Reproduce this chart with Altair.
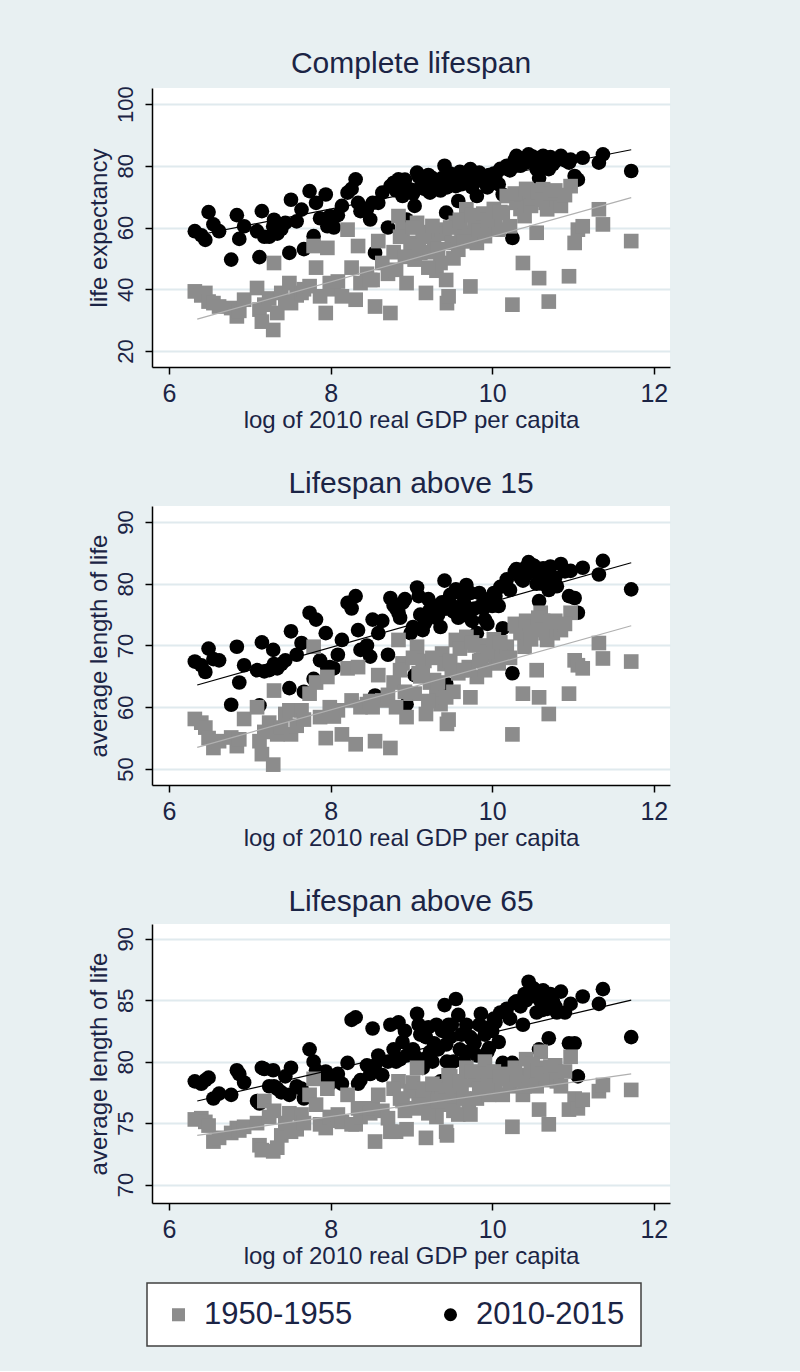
import altair as alt
import pandas as pd

# ---- data ----
gdp_log = [6.32, 6.40, 6.45, 6.49, 6.55, 6.62, 6.77, 6.84, 6.87, 6.93,
           7.09, 7.12, 7.15, 7.18, 7.24, 7.29, 7.30, 7.34, 7.39, 7.44,
           7.49, 7.51, 7.58, 7.64, 7.67, 7.74, 7.79, 7.82, 7.87, 7.94,
           7.96, 7.99, 8.04, 8.09, 8.14, 8.21, 8.26, 8.31, 8.34, 8.37,
           8.45, 8.49, 8.52, 8.55, 8.59, 8.64, 8.71, 8.74, 8.81, 8.84,
           8.89, 8.94, 8.99, 9.04, 9.07, 9.11, 9.14, 9.18, 9.23, 9.28,
           9.31, 9.36, 9.38, 9.41, 9.43, 9.44, 9.46, 9.50, 9.55, 9.58,
           9.62, 9.68, 9.71, 9.73, 9.78, 9.81, 9.86, 9.91, 9.96, 10.00,
           10.04, 10.08, 10.13, 10.18, 10.22, 10.25, 10.30, 10.35, 10.38, 10.40,
           10.45, 10.48, 10.52, 10.55, 10.58, 10.60, 10.63, 10.66, 10.68, 10.70,
           10.75, 10.80, 10.85, 10.95, 10.97, 11.02, 11.06, 11.12, 11.32, 11.37,
           11.72,
           8.78, 8.86, 8.92, 9.02, 9.09, 9.16, 9.21, 9.26, 9.33, 9.48,
           9.52, 9.60, 9.65, 9.75, 9.84, 9.89, 9.94, 10.02, 10.10, 10.28,
           10.42, 10.50, 10.57, 10.62, 10.72, 10.78, 10.90]

le_1950 = [39.3, 38.0, 38.8, 36.0, 35.5, 34.4, 33.9, 31.2, 33.0, 36.6,
           40.4, 33.4, 29.5, 35.0, 37.0, 26.8, 48.5, 32.3, 38.8, 36.0,
           42.0, 35.5, 38.0, 38.8, 40.0, 41.0, 54.0, 47.0, 37.7, 32.3,
           53.4, 42.0, 40.0, 42.5, 37.7, 59.3, 47.0, 36.6, 54.0, 42.0,
           45.0, 43.0, 43.0, 34.4, 55.6, 48.5, 45.0, 32.3, 46.3, 63.7,
           59.3, 42.0, 55.0, 49.6, 61.5, 51.8, 57.0, 38.8, 52.0, 56.0,
           46.0, 48.5, 59.3, 58.0, 43.0, 35.5, 37.7, 55.0, 61.5, 52.8,
           57.0, 65.9, 58.3, 40.9, 62.0, 55.0, 61.5, 57.2, 60.0, 63.7,
           62.0, 59.3, 64.8, 70.2, 60.4, 35.0, 68.0, 66.0, 48.5, 63.7,
           70.2, 67.0, 72.0, 58.3, 43.6, 71.0, 72.4, 68.0, 65.9, 36.0,
           70.2, 69.0, 67.0, 44.2, 73.4, 55.0, 59.3, 60.4, 65.9, 61.0,
           55.6,
           52.0, 57.0, 50.5, 60.0, 54.0, 58.5, 47.0, 60.5, 53.0, 60.0,
           50.0, 62.5, 55.5, 64.0, 59.0, 64.5, 62.5, 66.0, 65.0, 71.0,
           72.5, 69.5, 71.5, 69.0, 71.0, 72.0, 70.5]

le_2010 = [58.8, 57.5, 56.0, 65.0, 61.0, 58.8, 49.6, 64.0, 56.3, 60.4,
           58.8, 50.4, 65.3, 57.0, 57.0, 60.4, 62.5, 58.0, 59.5, 61.5,
           51.8, 69.0, 62.0, 65.8, 53.0, 71.8, 57.2, 68.0, 63.0, 70.7,
           60.4, 63.7, 60.0, 64.0, 67.0, 71.3, 72.5, 75.6, 68.0, 65.3,
           66.0, 62.6, 68.0, 51.8, 68.0, 71.3, 60.0, 73.4, 72.0, 75.6,
           70.2, 62.6, 72.3, 67.0, 77.8, 73.0, 75.0, 73.4, 71.3, 74.0,
           74.5, 72.0, 76.0, 80.0, 64.8, 73.0, 76.7, 75.0, 73.4, 68.6,
           74.0, 77.8, 75.0, 78.9, 76.0, 70.2, 76.7, 74.5, 77.0, 75.6,
           76.7, 74.0, 70.7, 80.0, 78.5, 56.6, 83.2, 80.0, 81.0, 82.0,
           83.7, 82.5, 82.1, 78.9, 76.0, 81.5, 83.2, 82.0, 81.0, 78.9,
           80.5, 82.0, 83.2, 81.0, 82.0, 76.7, 75.5, 82.6, 81.0, 83.7,
           78.3,
           74.5, 73.0, 75.5, 71.0, 76.5, 72.5, 77.0, 76.0, 73.0, 77.5,
           74.0, 78.0, 76.5, 73.0, 77.8, 75.5, 73.0, 77.5, 79.0, 82.0,
           81.0, 83.0, 82.5, 80.5, 82.8, 81.5, 81.8]

l15_1950 = [58.1, 57.5, 56.7, 55.0, 53.4, 54.5, 55.1, 53.7, 54.8, 58.1,
            60.0, 54.5, 52.4, 56.0, 57.5, 50.7, 62.7, 55.6, 56.7, 58.9,
            59.5, 55.6, 57.0, 59.5, 58.0, 62.2, 69.8, 64.0, 58.4, 55.0,
            64.9, 60.0, 58.5, 59.5, 55.6, 66.3, 61.1, 54.0, 66.5, 60.0,
            60.5, 61.0, 60.0, 54.5, 65.2, 61.1, 62.0, 53.4, 60.0, 70.9,
            67.1, 58.4, 62.2, 62.2, 69.8, 65.0, 66.0, 58.9, 64.0, 64.4,
            62.0, 60.5, 68.7, 67.0, 61.6, 57.3, 58.0, 66.0, 70.9, 65.5,
            66.0, 71.4, 66.5, 61.6, 70.0, 64.9, 67.6, 66.0, 68.5, 69.8,
            68.0, 67.1, 68.5, 69.8, 68.0, 55.6, 73.1, 72.0, 62.2, 69.8,
            72.0, 71.0, 73.5, 66.0, 61.6, 75.3, 74.0, 72.0, 70.9, 58.9,
            72.0, 73.0, 72.5, 62.2, 75.3, 67.6, 66.8, 66.3, 70.4, 67.9,
            67.4,
            64.0, 66.0, 62.5, 68.0, 65.5, 67.5, 61.0, 68.0, 64.0, 67.5,
            62.5, 69.5, 66.0, 70.5, 67.5, 70.0, 69.0, 71.0, 70.5, 73.5,
            74.0, 73.0, 74.5, 72.5, 73.8, 74.0, 73.5]

l15_2010 = [67.4, 66.8, 65.7, 69.5, 67.8, 67.6, 60.4, 69.8, 64.0, 66.8,
            66.0, 60.3, 70.5, 65.8, 66.0, 69.3, 67.0, 66.3, 67.0, 67.6,
            63.1, 72.3, 68.5, 70.4, 62.5, 75.3, 64.6, 74.2, 67.6, 72.0,
            66.3, 66.5, 66.3, 68.5, 70.9, 76.9, 76.0, 78.0, 72.5, 69.3,
            70.0, 68.2, 74.2, 61.9, 72.0, 74.0, 68.5, 77.7, 76.0, 75.3,
            76.9, 60.5, 72.0, 65.2, 79.4, 75.0, 72.5, 74.0, 75.8, 76.0,
            74.5, 73.0, 77.0, 80.5, 63.8, 76.0, 77.0, 76.5, 79.1, 74.5,
            76.0, 79.8, 74.7, 78.5, 76.0, 72.0, 76.4, 74.2, 77.5, 76.4,
            78.0, 76.4, 72.8, 80.7, 79.0, 65.5, 82.4, 81.0, 80.5, 82.5,
            83.5, 82.0, 82.9, 80.0, 77.2, 81.8, 82.5, 81.5, 82.1, 79.0,
            80.5, 79.6, 83.2, 78.0, 82.1, 77.7, 75.3, 82.6, 81.5, 83.7,
            79.1,
            76.5, 74.5, 77.5, 73.0, 78.0, 73.5, 77.5, 76.5, 75.0, 78.2,
            75.5, 78.5, 77.0, 74.0, 78.5, 76.0, 73.5, 78.5, 79.5, 82.0,
            81.5, 83.0, 82.3, 80.0, 82.8, 81.0, 82.0]

l65_1950 = [75.3, 75.4, 75.1, 74.8, 73.5, 73.8, 74.2, 74.6, 74.4, 74.7,
            75.0, 73.2, 72.8, 76.8, 75.5, 72.7, 76.0, 73.0, 74.0, 75.0,
            75.8, 74.3, 74.5, 75.7, 75.0, 77.3, 78.6, 76.5, 74.9, 74.6,
            77.8, 75.5, 75.2, 75.7, 75.1, 77.3, 74.9, 74.9, 76.2, 75.5,
            76.2, 75.8, 76.2, 73.5, 77.3, 76.0, 75.4, 74.3, 74.3, 78.4,
            76.8, 74.5, 77.6, 76.2, 79.5, 77.6, 77.0, 73.8, 76.2, 77.3,
            75.5, 76.5, 77.5, 78.0, 74.3, 74.0, 78.9, 77.0, 77.8, 75.7,
            78.0, 79.5, 76.8, 75.7, 78.5, 77.0, 78.4, 80.0, 77.3, 78.6,
            78.0, 78.6, 77.3, 79.0, 78.0, 74.7, 78.9, 78.5, 77.3, 78.0,
            78.9, 79.5, 79.0, 78.0, 76.1, 80.8, 79.5, 78.5, 78.9, 74.9,
            79.0, 78.4, 78.0, 76.1, 80.4, 77.0, 76.2, 76.9, 77.6, 78.1,
            77.7,
            77.8, 77.0, 76.0, 78.3, 76.5, 77.8, 75.8, 78.2, 76.8, 78.8,
            76.0, 78.4, 77.0, 79.2, 77.8, 79.0, 78.0, 79.2, 78.8, 79.5,
            80.2, 79.8, 79.3, 79.0, 79.6, 79.7, 79.2]

l65_2010 = [78.4, 78.2, 78.5, 78.7, 77.0, 77.4, 77.3, 79.3, 79.0, 78.3,
            76.8, 76.6, 79.5, 79.4, 78.0, 79.3, 78.0, 77.8, 77.5, 78.8,
            77.3, 79.5, 78.0, 77.8, 77.0, 81.0, 80.0, 79.3, 79.0, 79.2,
            78.6, 78.2, 78.6, 79.0, 78.2, 79.9, 83.4, 83.6, 78.2, 78.5,
            79.7, 79.0, 82.7, 79.7, 80.5, 78.9, 80.0, 83.0, 80.0, 83.2,
            81.6, 80.5, 80.8, 80.5, 83.9, 82.2, 79.5, 82.0, 80.8, 81.5,
            83.0, 78.4, 82.5, 84.6, 81.4, 80.0, 83.0, 83.0, 85.1, 83.8,
            82.2, 83.0, 80.8, 82.0, 81.5, 80.5, 83.9, 82.2, 81.1, 82.5,
            83.2, 81.6, 79.9, 84.3, 83.5, 79.9, 84.9, 84.5, 83.0, 85.5,
            86.5, 85.4, 85.9, 84.0, 81.0, 84.9, 85.8, 84.5, 84.3, 81.9,
            84.9, 84.0, 85.7, 81.5, 84.7, 81.5, 78.8, 85.3, 84.7, 85.9,
            82.0,
            81.0, 80.2, 82.5, 81.0, 83.0, 80.2, 82.8, 80.0, 81.0, 82.0,
            80.0, 81.0, 80.0, 81.8, 83.0, 82.8, 80.8, 83.5, 84.0, 84.8,
            85.0, 86.0, 85.2, 84.2, 85.5, 84.5, 84.0]

periods = ["1950-1955", "2010-2015"]
panel_titles = ["Complete lifespan", "Lifespan above 15", "Lifespan above 65"]
y_titles = ["life expectancy", "average length of life", "average length of life"]
y_ticks = [[20, 40, 60, 80, 100], [50, 60, 70, 80, 90], [70, 75, 80, 85, 90]]
y_domains = [[14.8, 105.2], [47.4, 92.6], [68.5, 91.2]]
x_ticks = [6, 8, 10, 12]
x_domain = [5.79, 12.2]
x_title = "log of 2010 real GDP per capita"

# fitted-line end points
fit_x = [6.35, 11.72]
fit_1950 = [[30.3, 69.7], [53.5, 73.2], [74.0, 79.0]]
fit_2010 = [[57.5, 85.2], [63.6, 83.4], [76.8, 85.0]]

series = [(le_1950, le_2010), (l15_1950, l15_2010), (l65_1950, l65_2010)]

rows = []
for p, (old, new) in enumerate(series):
    for xv, yv in zip(gdp_log, new):
        rows.append({"panel": p, "period": periods[1], "x": xv, "y": yv})
    for xv, yv in zip(gdp_log, old):
        rows.append({"panel": p, "period": periods[0], "x": xv, "y": yv})
points = pd.DataFrame(rows)

fit_rows = []
for p in range(3):
    for xv, y0, y1 in zip(fit_x, fit_1950[p], fit_2010[p]):
        fit_rows.append({"panel": p, "period": periods[0], "x": xv, "y": y0})
        fit_rows.append({"panel": p, "period": periods[1], "x": xv, "y": y1})
fits = pd.DataFrame(fit_rows)

NAVY = "#1b2445"
SANS = "Liberation Sans, Arial, sans-serif"
NARROW = "Liberation Sans Narrow, Arial Narrow, Liberation Sans, sans-serif"
BG = "#e8f0f2"


def panel(p):
    x_enc = alt.X("x:Q", scale=alt.Scale(domain=x_domain, nice=False, zero=False),
                  axis=alt.Axis(values=x_ticks, title=x_title, format="d"))
    y_enc = alt.Y("y:Q", scale=alt.Scale(domain=y_domains[p], nice=False, zero=False),
                  axis=alt.Axis(values=y_ticks[p], title=y_titles[p], format="d"))
    pts = alt.Chart(points).transform_filter(alt.datum.panel == p).mark_point(
        filled=True, opacity=1, size=215
    ).encode(
        x=x_enc, y=y_enc,
        color=alt.Color("period:N", scale=alt.Scale(domain=periods, range=["#8c8c8c", "#000000"]),
                        legend=alt.Legend(title=None)),
        shape=alt.Shape("period:N", scale=alt.Scale(domain=periods, range=["square", "circle"]),
                        legend=alt.Legend(title=None)),
    )
    fit_old = alt.Chart(fits).transform_filter(
        (alt.datum.panel == p) & (alt.datum.period == periods[0])
    ).mark_line(color="#b0b0b0", strokeWidth=1.2).encode(x=x_enc, y=y_enc)
    fit_new = alt.Chart(fits).transform_filter(
        (alt.datum.panel == p) & (alt.datum.period == periods[1])
    ).mark_line(color="#000000", strokeWidth=1.2).encode(x=x_enc, y=y_enc)
    return alt.layer(pts, fit_old, fit_new).properties(
        width=518, height=279,
        title=alt.TitleParams(panel_titles[p], fontSize=30, font=SANS, color=NAVY,
                              fontWeight="normal", anchor="middle", frame="group",
                              baseline="alphabetic", offset=-17),
    )


chart = alt.vconcat(panel(0), panel(1), panel(2), spacing=37).configure(
    background=BG,
    padding={"left": 87, "top": 48, "right": 130, "bottom": 24},
).configure_view(
    fill="white", strokeWidth=0
).configure_axis(
    domainColor="black", domainWidth=1.5, tickColor="black", tickWidth=1.5, tickSize=7,
    labelColor=NAVY, titleColor=NAVY, labelFont=NARROW, titleFont=SANS,
    titleFontWeight="normal", gridColor="#e0eaee", gridWidth=2,
).configure_axisX(
    grid=False, labelFontSize=25, labelPadding=7, titleFontSize=24, titlePadding=2,
).configure_axisY(
    grid=True, labelAngle=270, labelFontSize=22, labelPadding=8, labelAlign="center",
    labelBaseline="bottom", titleFontSize=24, titlePadding=3,
).configure_legend(
    orient="none", legendX=-5, legendY=1195, direction="horizontal",
    fillColor="white", strokeColor="#404040", strokeWidth=1.5, padding=16,
    labelFont=SANS, labelFontSize=31, labelColor=NAVY, symbolSize=170,
    symbolStrokeWidth=0, labelOffset=10, columnPadding=82,
)

chart.save("out.html", embed_options={"renderer": "svg", "actions": False})
